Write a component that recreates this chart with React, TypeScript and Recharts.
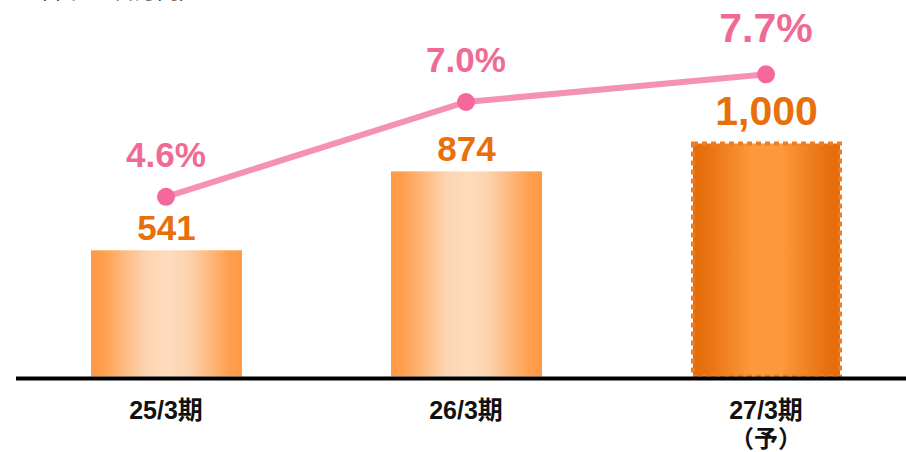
import { ComposedChart, Bar, Line, XAxis, YAxis, LabelList } from 'recharts';

const periods = ['25/3期', '26/3期', '27/3期'];
const periodNotes = ['', '', '（予）'];
const profit = [541, 874, 1000];
const margin = [4.6, 7.0, 7.7];

const data = periods.map((p, i) => ({ period: p, note: periodNotes[i], profit: profit[i], margin: margin[i] }));

const FONT = '"Liberation Sans", Arial, "Noto Sans CJK JP", sans-serif';
const LAST = periods.length - 1;

const PeriodTick = (props: any) => {
  const { x, y, payload, index } = props;
  const note = periodNotes[index];
  return (
    <g>
      <text x={x} y={y + 32} textAnchor="middle" fontFamily={FONT} fontWeight="bold" fontSize={25} fill="#111">
        {payload.value}
      </text>
      {note && (
        <text x={x} y={y + 60} textAnchor="middle" fontFamily={FONT} fontWeight="bold" fontSize={24} fill="#111">
          {note}
        </text>
      )}
    </g>
  );
};

const BarShape = (props: any) => {
  const { x, y, width, height, index } = props;
  if (index === LAST) {
    return (
      <rect x={x + 2} y={y + 2} width={width - 4} height={height - 4} fill="url(#gradForecast)"
        stroke="#F07D1E" strokeWidth={4} strokeDasharray="5 4" />
    );
  }
  return <rect x={x} y={y} width={width} height={height - 2} fill="url(#gradActual)" />;
};

const ProfitLabel = (props: any) => {
  const { x, y, width, value, index } = props;
  const big = index === LAST;
  return (
    <text x={x + width / 2} y={y - (big ? 17 : 10)} textAnchor="middle" fontFamily={FONT} fontWeight="bold"
      fontSize={big ? 41 : 35} fill="#E8700A">
      {value.toLocaleString('en-US')}
    </text>
  );
};

const MarginLabel = (props: any) => {
  const { x, y, value, index } = props;
  const big = index === LAST;
  return (
    <text x={x} y={y - (big ? 32 : 30)} textAnchor="middle" fontFamily={FONT} fontWeight="bold"
      fontSize={big ? 41 : 35} fill="#EF6B95">
      {value.toFixed(1)}%
    </text>
  );
};

export default function App() {
  return (
    <div style={{ position: 'absolute', left: 0, top: 0, width: 906, height: 452, overflow: 'hidden', background: '#fff' }}>
      <svg width={906} height={30} style={{ position: 'absolute', left: 0, top: 0 }}>
        <text x={25} y={-2} fontFamily='"Noto Sans CJK JP", sans-serif' fontSize={22} fill="#000">（単位：百万円）</text>
      </svg>
      <ComposedChart width={920} height={452} data={data} margin={{ top: 23, right: 4, bottom: 0, left: 16 }}>
        <defs>
          <linearGradient id="gradActual" x1="0" y1="0" x2="1" y2="0">
            <stop offset="0" stopColor="#FF9A45" />
            <stop offset="0.08" stopColor="#FF9F4E" />
            <stop offset="0.36" stopColor="#FDD4B0" />
            <stop offset="0.5" stopColor="#FDDCBE" />
            <stop offset="0.64" stopColor="#FDD4B0" />
            <stop offset="0.92" stopColor="#FF9F4E" />
            <stop offset="1" stopColor="#FF9A45" />
          </linearGradient>
          <linearGradient id="gradForecast" x1="0" y1="0" x2="1" y2="0">
            <stop offset="0" stopColor="#E46C0A" />
            <stop offset="0.1" stopColor="#E8720F" />
            <stop offset="0.4" stopColor="#FD983C" />
            <stop offset="0.6" stopColor="#FD983C" />
            <stop offset="0.9" stopColor="#E8720F" />
            <stop offset="1" stopColor="#E46C0A" />
          </linearGradient>
        </defs>
        <YAxis yAxisId="profit" domain={[0, 1500]} hide />
        <YAxis yAxisId="margin" domain={[0, 9]} hide />
        <Bar yAxisId="profit" dataKey="profit" barSize={151} shape={BarShape} isAnimationActive={false}>
          <LabelList dataKey="profit" content={ProfitLabel} />
        </Bar>
        <Line yAxisId="margin" dataKey="margin" stroke="#F591B4" strokeWidth={6}
          dot={{ r: 9, fill: '#F5689B', stroke: 'none' }} isAnimationActive={false}>
          <LabelList dataKey="margin" content={MarginLabel} />
        </Line>
        <XAxis dataKey="period" height={73.5} axisLine={{ stroke: '#000', strokeWidth: 4 }} tickLine={false}
          tick={PeriodTick} interval={0} />
      </ComposedChart>
    </div>
  );
}
